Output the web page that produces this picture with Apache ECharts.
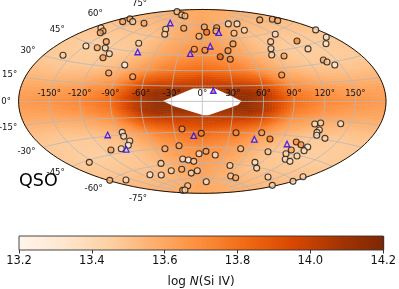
<!DOCTYPE html>
<html>
<head>
<meta charset="utf-8">
<style>html,body{margin:0;padding:0;background:#fff}#c{width:399px;height:289px}</style>
<script src="https://cdn.jsdelivr.net/npm/echarts@6/dist/echarts.min.js"></script>
</head>
<body>
<div id="c"></div>
<script>
// Sightlines: [map-plane x deg, map-plane y deg, log N(Si IV)]
const detections = [
[-136.5,45.2,13.45],[-114,54.3,13.35],[-102.9,52.6,13.58],[-95.1,52.3,13.42],[-94.1,58.5,13.6],[-91.1,46.7,13.4],
[-97.3,42.8,13.65],[-91.7,27.8,13.6],[-76,35.7,13.25],[-68.2,24.2,13.62],[-62.3,56.9,13.42],[-99.3,71.9,13.4],
[-97.3,69,13.6],[-100,67.3,13.62],[-78,78.1,13.6],[-70.9,80.8,13.6],[-68.2,78.1,13.42],[-57.1,76.5,13.62],
[-35.9,70.7,13.45],[-36.8,65.8,13.45],[-18.2,71.6,13.62],[-7.8,51.1,13.65],[-24.8,87.9,13.5],[-20.2,84.7,13.5],
[-17,83.7,13.55],[-3.2,63.8,13.55],[2,72.9,13.6],[4.3,67.7,13.78],[14.1,72.2,13.68],[13.4,69,13.55],
[25.5,75.9,13.38],[34,75.9,13.38],[31.1,66.7,13.5],[41.2,69.7,13.4],[30.1,56.3,13.62],[25.2,49.7,13.68],
[2.6,50.1,13.68],[17.6,43.8,13.85],[27.4,41.3,13.72],[56.3,79.8,13.6],[68.6,80.5,13.6],[73.9,79.1,13.6],
[71.5,65.8,13.38],[67,58.5,13.45],[67.3,51.6,13.42],[68,45.5,13.45],[80.1,44.5,13.62],[92.8,59.2,13.72],
[103.6,51.4,13.4],[111.1,70,13.4],[121.5,62.8,13.35],[121.2,56.5,13.35],[118.6,40.6,13.58],[122.2,38.6,13.48],
[129.8,35.7,13.3],[77.8,25.9,13.65],
[-78.4,-30.3,13.35],[-77,-34.2,13.38],[-71.1,-38.8,13.4],[-72.5,-43,13.22],[-79.4,-46.4,13.4],[-89.5,-47.6,13.62],
[-19.9,-27,13.7],[-22.8,-43.4,13.6],[-36.6,-46.4,13.58],[-3.2,-51.3,13.4],[-19.2,-56.4,13.4],[-13.7,-57.4,13.25],
[-8.4,-58.7,13.45],[-40.5,-60.7,13.45],[-110.7,-59.7,13.5],[-51.3,-71.8,13.3],[-40.2,-72.1,13.38],[-30.4,-67.9,13.42],
[-20.2,-66.5,13.58],[-10.8,-70.2,13.45],[-4.9,-67.9,13.45],[-74.8,-77,13.42],[-90.7,-77.3,13.55],[-14.3,-82.6,13.5],
[-19.2,-87.1,13.55],[-17,-86.8,13.42],
[-1,-31.3,13.75],[33,-30.7,13.72],[58.2,-30.7,13.65],[66.3,-36.8,13.75],[37.6,-46.4,13.52],[64.4,-49.3,13.48],
[3.6,-48.9,13.62],[12.7,-52.5,13.38],[27.1,-62.8,13.42],[51.6,-59.7,13.35],[53.3,-65.3,13.4],[27.8,-73.1,13.48],
[32.7,-74.8,13.6],[3.9,-78.7,13.38],[64.4,-74.1,13.42],[68.6,-82.2,13.42],[88.9,-78.3,13.42],[98.7,-73.8,13.42],
[110.2,-22.1,13.38],[116,-21.2,13.45],[135.6,-21.9,13.35],[114.7,-28,13.35],[112.4,-30.3,13.4],[112.1,-33.2,13.38],
[120.2,-36.2,13.45],[92.1,-39.8,13.7],[96.7,-42.4,13.68],[103.3,-44.7,13.35],[99.7,-48.3,13.4],[87.2,-47.6,13.6],
[82,-51.3,13.42],[81.3,-56.7,13.4],[85.9,-58.7,13.35],[92.8,-53.5,13.42]
];
const upperLimits = [
[-63.3,48.4,13.5],[-31.4,76.8,13.55],[-11.8,46.7,13.55],[16.1,67.3,13.55],[7.8,54,13.6],[10.8,10.5,13.8],
[-92.7,-32.9,13.5],[-74.5,-46.9,13.4],[-8.4,-33.6,13.6],[51,-37.1,13.5],[83,-41.7,13.5]
];
// Model surface (folded about lon 0 and lat 0)
const modelLon = [0,15,30,45,60,75,90,120,150,180];
const modelLat = [0,8,15,22,30,45,60,75,90];
const modelN = [
[14.16,14.16,14.15,14.14,14.06,13.95,13.81,13.72,13.68,13.65],
[14.12,14.12,14.12,14.12,14.06,13.92,13.77,13.68,13.63,13.61],
[14.02,14.02,14.02,14.02,13.96,13.82,13.69,13.60,13.57,13.56],
[13.95,13.93,13.91,13.88,13.82,13.70,13.61,13.54,13.51,13.51],
[13.83,13.81,13.78,13.74,13.67,13.60,13.54,13.48,13.47,13.48],
[13.70,13.68,13.66,13.62,13.57,13.53,13.49,13.46,13.46,13.48],
[13.64,13.62,13.60,13.58,13.55,13.52,13.50,13.50,13.50,13.51],
[13.61,13.60,13.59,13.58,13.57,13.56,13.56,13.55,13.55,13.55],
[13.59,13.59,13.59,13.59,13.59,13.59,13.59,13.59,13.59,13.59]
];
// Unmodelled central region, map-plane degrees
const holeX = [-38.5,-9,12.5,38.5,35,6,1,-28.5];
const holeY = [0.4,12.7,12.7,0.4,-3.5,-13.6,-13.6,-4.5];
const lonTicks = [-150,-120,-90,-60,-30,0,30,60,90,120,150];
const latTicks = [-75,-60,-45,-30,-15,0,15,30,45,60,75];
const colorTicks = [13.2,13.4,13.6,13.8,14.0,14.2];
const oranges = ['#fff5eb','#fee6ce','#fdd0a2','#fdae6b','#fd8d3c','#f16913','#d94801','#a63603','#7f2704'];

const RAD = Math.PI / 180, NMIN = 13.2, NMAX = 14.2;
function aitoff(lon, lat) {
  const l = lon * RAD, p = lat * RAD;
  const a = Math.acos(Math.cos(p) * Math.cos(l / 2));
  const s = a < 1e-6 ? 1 : Math.sin(a) / a;
  return [2 * Math.cos(p) * Math.sin(l / 2) / s / RAD, Math.sin(p) / s / RAD];
}
function hex(c) { return [1,3,5].map(i => parseInt(c.substr(i, 2), 16)); }
const stops = oranges.map(hex);
function cmap(v) {
  const t = Math.max(0, Math.min(1, (v - NMIN) / (NMAX - NMIN))) * (stops.length - 1);
  const i = Math.min(stops.length - 2, Math.floor(t)), f = t - i;
  const c = stops[i].map((s, k) => Math.round(s + (stops[i + 1][k] - s) * f));
  return 'rgb(' + c.join(',') + ')';
}
function bracket(arr, v) {
  let i = 0;
  while (i < arr.length - 2 && v > arr[i + 1]) i++;
  return [i, (v - arr[i]) / (arr[i + 1] - arr[i])];
}
function surface(lon, lat) {
  const [i, u] = bracket(modelLon, Math.abs(lon));
  const [j, w] = bracket(modelLat, Math.abs(lat));
  const a = modelN[j][i] * (1 - u) + modelN[j][i + 1] * u;
  const b = modelN[j + 1][i] * (1 - u) + modelN[j + 1][i + 1] * u;
  return a * (1 - w) + b * w;
}
// Background cells
const cells = [];
const DLON = 3, DLAT = 2;
for (let lo = -180; lo < 180; lo += DLON) for (let la = -90; la < 90; la += DLAT) cells.push([lo, la]);
// Graticule
const graticule = [];
lonTicks.forEach(lo => { const pts = []; for (let la = -80; la <= 80; la += 2) pts.push(aitoff(lo, la)); graticule.push(pts); });
latTicks.forEach(la => { const pts = []; for (let lo = -180; lo <= 180; lo += 4) pts.push(aitoff(lo, la)); graticule.push(pts); });
const outline = [];
for (let la = -90; la <= 90; la += 2) outline.push(aitoff(-180, la));
for (let la = 90; la >= -90; la -= 2) outline.push(aitoff(180, la));

const textFont = '8.5px "DejaVu Sans"';
const latLabels = latTicks.map(la => ({ p: aitoff(-180, la), la, text: la + '°' }));
const lonLabels = lonTicks.map(lo => ({ p: aitoff(lo, 0), text: lo + '°' }));
const barSteps = [];
for (let i = 0; i < 368; i++) barSteps.push(NMIN + (NMAX - NMIN) * i / 368);

const chart = echarts.init(document.getElementById('c'), null, { renderer: 'canvas', width: 399, height: 289 });
chart.setOption({
  animation: false,
  backgroundColor: '#fff',
  grid: [
    { left: 18.6, top: 9.5, width: 367.4, height: 183.8 },
    { left: 19, top: 236, width: 367, height: 18 }
  ],
  xAxis: [
    { gridIndex: 0, type: 'value', min: -180, max: 180, show: false },
    { gridIndex: 1, type: 'value', min: NMIN, max: NMAX, interval: 0.2,
      axisLine: { show: false }, splitLine: { show: false },
      axisTick: { show: true, length: 3.5, lineStyle: { color: '#000', width: 0.8 } },
      axisLabel: { color: '#111', fontFamily: 'DejaVu Sans', fontSize: 11.5, margin: 5,
        formatter: v => colorTicks.find(t => Math.abs(t - v) < 1e-6).toFixed(1) },
      name: '{a|log }{i|N}{a|(Si IV)}', nameLocation: 'middle', nameGap: 26,
      nameTextStyle: { rich: {
        a: { fontFamily: 'DejaVu Sans', fontSize: 12, color: '#111' },
        i: { fontFamily: 'DejaVu Sans', fontStyle: 'italic', fontSize: 12, color: '#111' } } } }
  ],
  yAxis: [
    { gridIndex: 0, type: 'value', min: -90, max: 90, show: false },
    { gridIndex: 1, type: 'value', min: 0, max: 1, show: false }
  ],
  series: [
    { type: 'custom', xAxisIndex: 0, yAxisIndex: 0, z: 1, silent: true, clip: false, data: cells.map(c => [0, 0]),
      progressive: 0,
      renderItem(params, api) {
        const [lo, la] = cells[params.dataIndex];
        const col = cmap(surface(lo + DLON / 2, la + DLAT / 2));
        const corners = [[lo, la], [lo + DLON, la], [lo + DLON, la + DLAT], [lo, la + DLAT]].map(c => api.coord(aitoff(c[0], c[1])));
        return { type: 'polygon', shape: { points: corners }, style: { fill: col, stroke: col, lineWidth: 0.6 } };
      } },
    { type: 'custom', xAxisIndex: 0, yAxisIndex: 0, z: 2, silent: true, data: [[0, 0]],
      renderItem(params, api) {
        return { type: 'polygon', shape: { points: holeX.map((x, i) => api.coord([x, holeY[i]])) }, style: { fill: '#fff' } };
      } },
    { type: 'custom', xAxisIndex: 0, yAxisIndex: 0, z: 3, silent: true, clip: false, data: graticule.map(() => [0, 0]),
      progressive: 0,
      renderItem(params, api) {
        return { type: 'polyline', shape: { points: graticule[params.dataIndex].map(p => api.coord(p)) },
          style: { fill: 'none', stroke: '#b8b8b8', lineWidth: 0.8 } };
      } },
    { type: 'custom', xAxisIndex: 0, yAxisIndex: 0, z: 4, silent: true, clip: false, data: [[0, 0]],
      renderItem(params, api) {
        return { type: 'polygon', shape: { points: outline.map(p => api.coord(p)) },
          style: { fill: 'none', stroke: '#000', lineWidth: 0.9 } };
      } },
    { type: 'custom', xAxisIndex: 0, yAxisIndex: 0, z: 5, silent: true, clip: false, data: lonLabels.map(() => [0, 0]),
      renderItem(params, api) {
        const d = lonLabels[params.dataIndex], c = api.coord(d.p);
        return { type: 'text', x: c[0], y: c[1] - 8, style: { text: d.text, font: textFont, fill: '#111', textAlign: 'center', textVerticalAlign: 'middle' } };
      } },
    { type: 'custom', xAxisIndex: 0, yAxisIndex: 0, z: 5, silent: true, clip: false, data: latLabels.map(() => [0, 0]),
      renderItem(params, api) {
        const d = latLabels[params.dataIndex], c = api.coord(d.p);
        return { type: 'text', x: c[0] - 7.7, y: c[1] - 9.3 * Math.sin(d.la * RAD), style: { text: d.text, font: textFont, fill: '#111', textAlign: 'right', textVerticalAlign: 'middle' } };
      } },
    { type: 'scatter', xAxisIndex: 0, yAxisIndex: 0, z: 6, silent: true, clip: false, symbol: 'circle', symbolSize: 6,
      data: detections,
      itemStyle: { color: p => cmap(p.data[2]), borderColor: '#141414', borderWidth: 1.1 } },
    { type: 'scatter', xAxisIndex: 0, yAxisIndex: 0, z: 7, silent: true, clip: false, symbol: 'triangle', symbolSize: 5.5,
      data: upperLimits,
      itemStyle: { color: p => cmap(p.data[2]), borderColor: '#1a00ff', borderWidth: 1.3 } },
    { type: 'custom', xAxisIndex: 1, yAxisIndex: 1, z: 1, silent: true, data: barSteps.map(() => [0, 0]),
      progressive: 0,
      renderItem(params, api) {
        const v = barSteps[params.dataIndex];
        const a = api.coord([v, 1]), b = api.coord([v + (NMAX - NMIN) / 368, 0]);
        return { type: 'rect', shape: { x: a[0], y: a[1], width: Math.ceil(b[0] - a[0]) + 1, height: b[1] - a[1] }, style: { fill: cmap(v) } };
      } },
    { type: 'custom', xAxisIndex: 1, yAxisIndex: 1, z: 2, silent: true, clip: false, data: [[0, 0]],
      renderItem(params, api) {
        const a = api.coord([NMIN, 1]), b = api.coord([NMAX, 0]);
        return { type: 'rect', shape: { x: a[0], y: a[1], width: b[0] - a[0], height: b[1] - a[1] }, style: { fill: 'none', stroke: '#333', lineWidth: 0.9 } };
      } }
  ],
  graphic: [
    { type: 'text', left: 19, top: 172, z: 10, silent: true, style: { text: 'QSO', font: '17.5px "DejaVu Sans"', fill: '#000' } }
  ]
});
</script>
</body>
</html>
